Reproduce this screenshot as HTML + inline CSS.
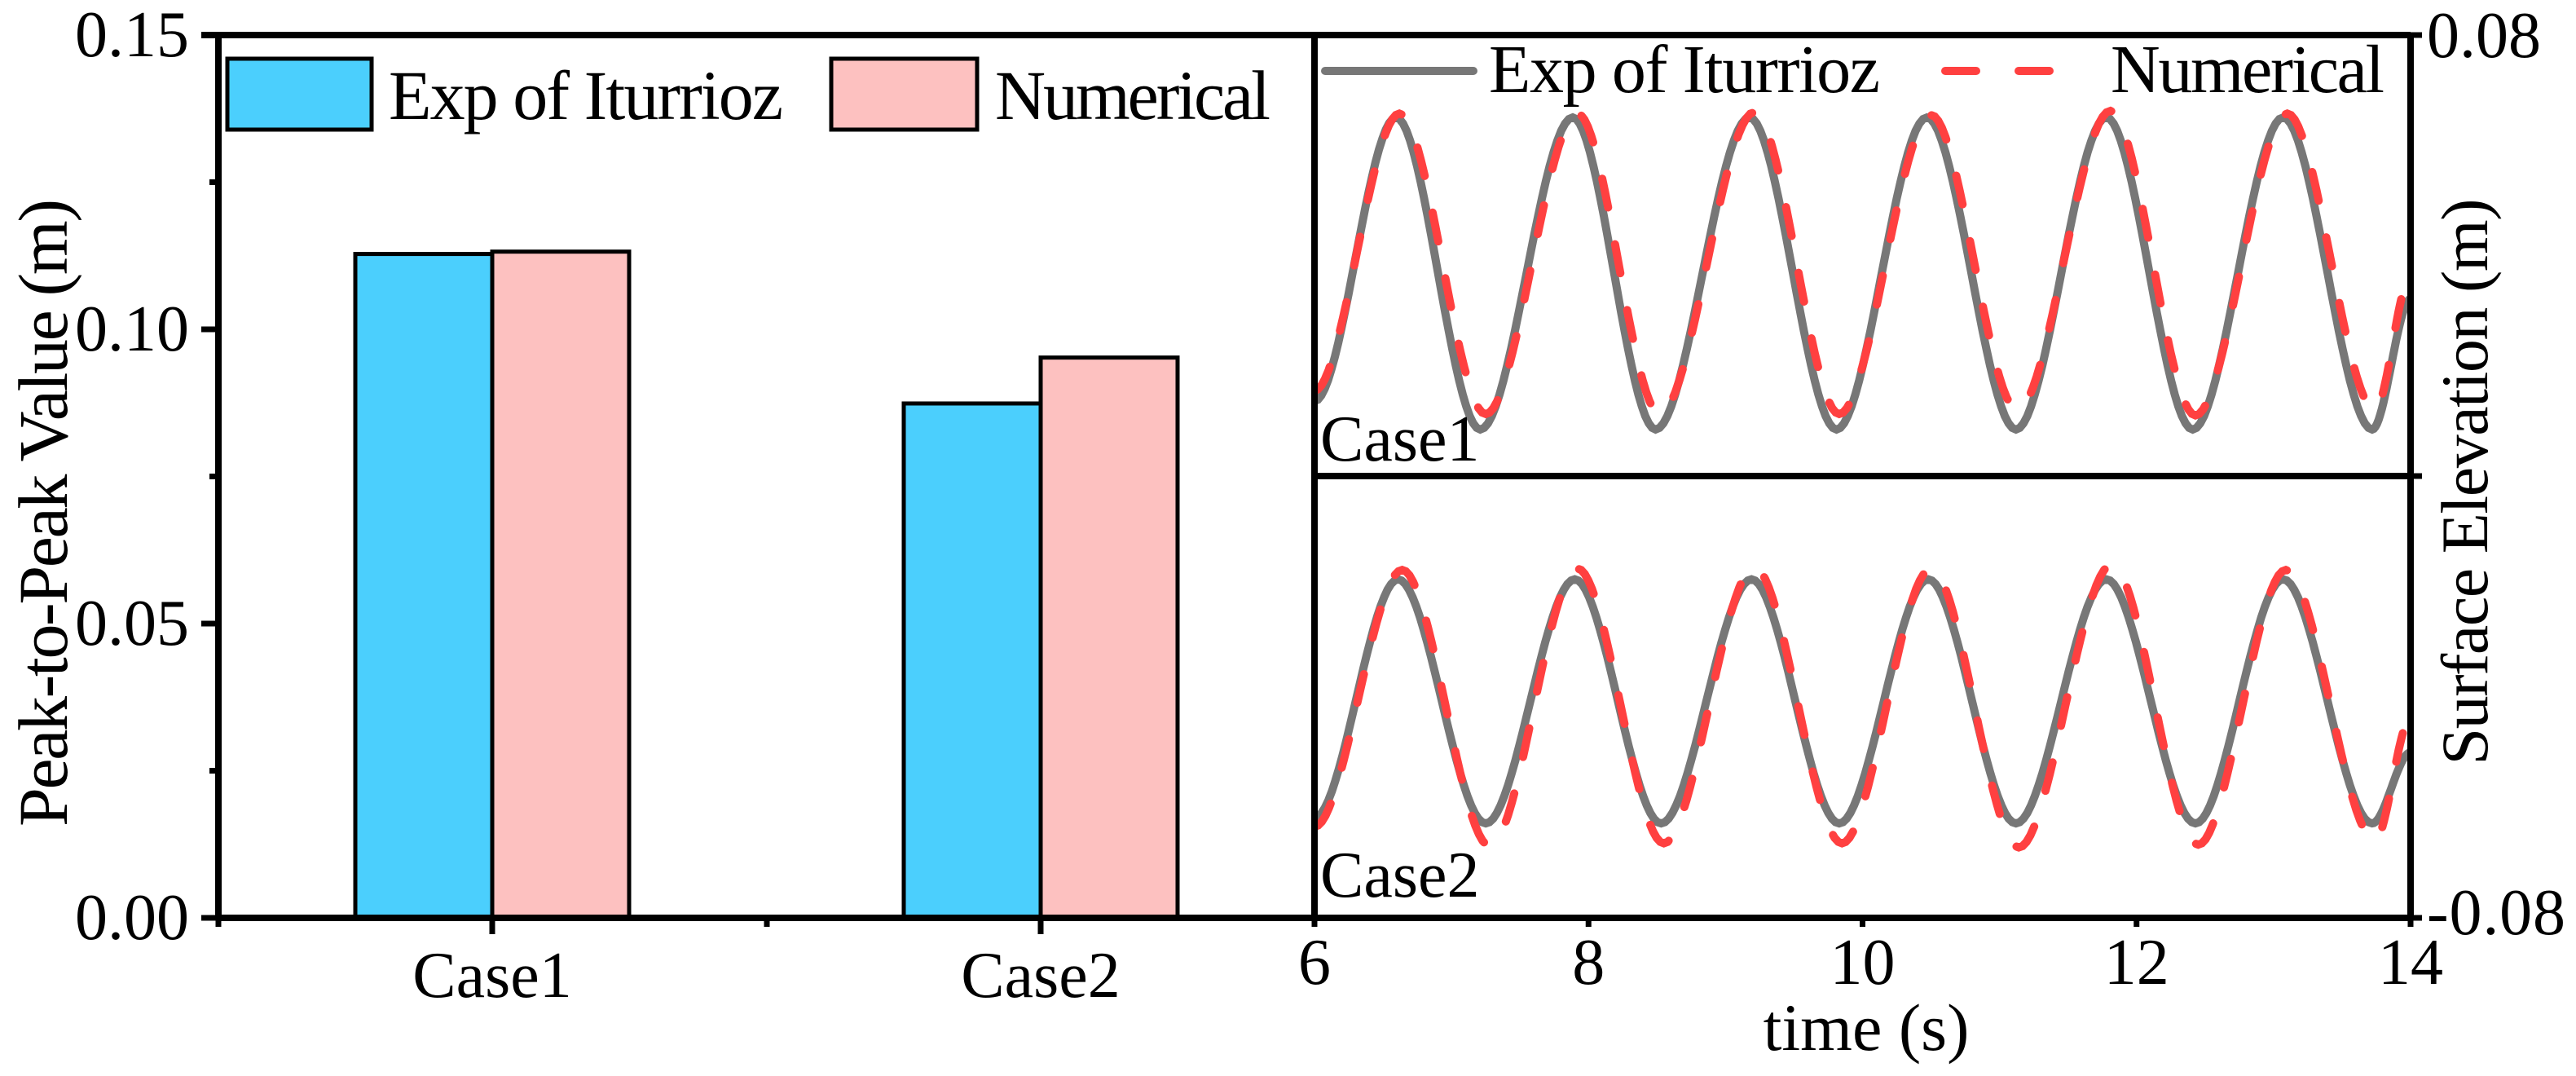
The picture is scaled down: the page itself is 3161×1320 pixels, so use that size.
<!DOCTYPE html>
<html><head><meta charset="utf-8"><style>
html,body{margin:0;padding:0;background:#fff;}
svg{display:block;font-family:"Liberation Serif","DejaVu Serif",serif;}
</style></head><body>
<svg id="chart" width="3161" height="1320" viewBox="0 0 3161 1320" xmlns="http://www.w3.org/2000/svg">
<g id="bars"></g>
<g id="waves"></g>
<g id="axes"></g>
<g id="labels"></g>
</svg>
<script>
// ---- Bar chart data ----
const barCategories = ["Case1", "Case2"];
const expValues = [0.1128, 0.0874];
const numValues = [0.1132, 0.0952];
const barYTicks = [0, 0.05, 0.10, 0.15];
const barYTickLabels = ["0.00", "0.05", "0.10", "0.15"];
// ---- Time series data (extrema keypoints: time s, elevation m) ----
const case1ExpT = [6.0, 6.595, 7.21, 7.885, 8.49, 9.175, 9.81, 10.47, 11.12, 11.78, 12.41, 13.07, 13.72, 14.0];
const case1ExpV = [-0.0528, 0.0501, -0.0631, 0.0501, -0.0631, 0.0501, -0.0631, 0.0501, -0.0631, 0.0501, -0.0631, 0.0501, -0.0631, -0.0158];
const case1NumT = [6.0, 6.62, 7.25, 7.92, 8.52, 9.21, 9.83, 10.50, 11.13, 11.81, 12.43, 13.10, 13.74, 14.0];
const case1NumV = [-0.0490, 0.0515, -0.0575, 0.0515, -0.0575, 0.0520, -0.0575, 0.0510, -0.0560, 0.0525, -0.0580, 0.0515, -0.0560, -0.0075];
const case2ExpT = [6.0, 6.61, 7.25, 7.90, 8.53, 9.19, 9.83, 10.48, 11.12, 11.78, 12.43, 13.07, 13.72, 14.0];
const case2ExpV = [-0.0438, 0.0426, -0.0458, 0.0426, -0.0458, 0.0426, -0.0458, 0.0426, -0.0458, 0.0426, -0.0458, 0.0426, -0.0458, -0.0201];
const case2NumT = [6.0, 6.64, 7.28, 7.92, 8.55, 9.21, 9.85, 10.50, 11.14, 11.82, 12.45, 13.09, 13.74, 14.0];
const case2NumV = [-0.0470, 0.0460, -0.0540, 0.0465, -0.0530, 0.0470, -0.0530, 0.0465, -0.0545, 0.0480, -0.0535, 0.0460, -0.0520, -0.0077];
const timeTicks = [6, 8, 10, 12, 14];

const NS = "http://www.w3.org/2000/svg";
function mk(parent, tag, attrs, text) {
  const e = document.createElementNS(NS, tag);
  for (const k in attrs) e.setAttribute(k, attrs[k]);
  if (text !== undefined) e.textContent = text;
  parent.appendChild(e);
  return e;
}
const gB = document.getElementById("bars"), gW = document.getElementById("waves"),
      gA = document.getElementById("axes"), gL = document.getElementById("labels");

// bar axes
const L = 268, R = 1613, T = 43, B = 1126;
const yB = v => B - (v / 0.15) * (B - T);
const catX = [604, 1277];
const barW = 168;
barCategories.forEach((c, i) => {
  const b1 = mk(gB, "rect", {x: catX[i] - barW, y: yB(expValues[i]), width: barW, height: B - yB(expValues[i]), fill: "#4bcffd", stroke: "#000", "stroke-width": 5});
  
  
  const b2 = mk(gB, "rect", {x: catX[i], y: yB(numValues[i]), width: barW, height: B - yB(numValues[i]), fill: "#fdc1c0", stroke: "#000", "stroke-width": 5});
  
  
  const t = mk(gL, "text", {x: catX[i], y: 1223, "font-size": 80, "text-anchor": "middle"}, c);
  
  
  mk(gA, "line", {x1: catX[i], y1: B, x2: catX[i], y2: B + 20, stroke: "#000", "stroke-width": 7});
});
mk(gA, "line", {x1: 941, y1: B, x2: 941, y2: B + 11, stroke: "#000", "stroke-width": 7});
mk(gA, "line", {x1: L, y1: B, x2: L, y2: B + 11, stroke: "#000", "stroke-width": 7});
barYTicks.forEach((v, i) => {
  mk(gA, "line", {x1: L - 21, y1: yB(v), x2: L, y2: yB(v), stroke: "#000", "stroke-width": 7});
  if (i < barYTicks.length - 1) {
    const m = (v + barYTicks[i + 1]) / 2;
    mk(gA, "line", {x1: L - 11, y1: yB(m), x2: L, y2: yB(m), stroke: "#000", "stroke-width": 7});
  }
  const t = mk(gL, "text", {x: 232, y: yB(v) + 26, "font-size": 80, "text-anchor": "end"}, barYTickLabels[i]);
  
  
});

// wave panel
const WL = 1613, WR = 2958, MID = 584;
const xT = t => WL + (t - 6) / 8 * (WR - WL);
const yP = (v, top, bot) => (top + bot) / 2 - v / 0.16 * (bot - top);
function curve(ts, vs, top, bot) {
  let d = "";
  for (let i = 0; i < ts.length - 1; i++) {
    const n = 24;
    for (let k = 0; k <= n; k++) {
      if (i > 0 && k === 0) continue;
      const s = k / n;
      const h = 3 * s * s - 2 * s * s * s;
      const t = ts[i] + (ts[i + 1] - ts[i]) * s;
      const v = vs[i] + (vs[i + 1] - vs[i]) * h;
      d += (d ? "L" : "M") + xT(t).toFixed(1) + "," + yP(v, top, bot).toFixed(1);
    }
  }
  return d;
}
const clip = mk(gW, "clipPath", {id: "wclip"});
mk(clip, "rect", {x: WL, y: T, width: WR - WL, height: B - T});
const series = [
  [case1ExpT, case1ExpV, T, MID, "exp", "case1"],
  [case1NumT, case1NumV, T, MID, "num", "case1"],
  [case2ExpT, case2ExpV, MID, B, "exp", "case2"],
  [case2NumT, case2NumV, MID, B, "num", "case2"]
];
series.forEach(s => {
  const attrs = {d: curve(s[0], s[1], s[2], s[3]), fill: "none", "clip-path": "url(#wclip)", "stroke-width": 10};
  if (s[4] === "exp") { attrs.stroke = "#777777"; }
  else { attrs.stroke = "#ff4040"; attrs["stroke-dasharray"] = "36 46"; attrs["stroke-linecap"] = "round"; }
  const p = mk(gW, "path", attrs);
  
  
});

// frames
mk(gA, "line", {x1: L - 21, y1: T, x2: WR, y2: T, stroke: "#000", "stroke-width": 8});
mk(gA, "line", {x1: L, y1: T, x2: L, y2: B, stroke: "#000", "stroke-width": 8});
mk(gA, "line", {x1: L, y1: B, x2: WR, y2: B, stroke: "#000", "stroke-width": 8});
mk(gA, "line", {x1: WL, y1: T, x2: WL, y2: B, stroke: "#000", "stroke-width": 8});
mk(gA, "line", {x1: WR, y1: T, x2: WR, y2: B, stroke: "#000", "stroke-width": 8});
mk(gA, "line", {x1: WL, y1: MID, x2: WR, y2: MID, stroke: "#000", "stroke-width": 8});
[T, MID, B].forEach(y => mk(gA, "line", {x1: WR, y1: y, x2: WR + 14, y2: y, stroke: "#000", "stroke-width": 7}));
timeTicks.forEach(t => {
  mk(gA, "line", {x1: xT(t), y1: B, x2: xT(t), y2: B + 11, stroke: "#000", "stroke-width": 7});
  const e = mk(gL, "text", {x: xT(t), y: 1207, "font-size": 80, "text-anchor": "middle"}, String(t));
  
  
});
</script>
<svg width="0" height="0" style="position:absolute"></svg>
<script>
const gl = document.getElementById("labels");
function tx(attrs, text, name) {
  const e = document.createElementNS("http://www.w3.org/2000/svg", "text");
  for (const k in attrs) e.setAttribute(k, attrs[k]);
  e.textContent = text;
  
  
  gl.appendChild(e);
  return e;
}
function el(tag, attrs, name, inter) {
  const e = document.createElementNS("http://www.w3.org/2000/svg", tag);
  for (const k in attrs) e.setAttribute(k, attrs[k]);
  
  
  gl.appendChild(e);
  return e;
}
tx({x: 2978, y: 70, "font-size": 80}, "0.08", "right-y-tick-top");
tx({x: 2978, y: 1146, "font-size": 80, textLength: 170}, "-0.08", "right-y-tick-bottom");
tx({x: 0, y: 0, "font-size": 86, "text-anchor": "middle", textLength: 770, transform: "translate(82,629) rotate(-90)"}, "Peak-to-Peak Value (m)", "y-axis-title");
tx({x: 0, y: 0, "font-size": 82, "text-anchor": "middle", textLength: 695, transform: "translate(3052,591) rotate(-90)"}, "Surface Elevation (m)", "right-y-axis-title");
tx({x: 2290, y: 1288, "font-size": 82, "text-anchor": "middle"}, "time (s)", "x-axis-title");
tx({x: 1620, y: 565, "font-size": 80}, "Case1", "case1-panel-label");
tx({x: 1620, y: 1100, "font-size": 80}, "Case2", "case2-panel-label");
// bar legend
el("rect", {x: 279, y: 72, width: 177, height: 87, fill: "#4bcffd", stroke: "#000", "stroke-width": 5}, "legend-swatch-exp", "false");
tx({x: 477, y: 146, "font-size": 86, textLength: 484}, "Exp of Iturrioz", "legend-entry-exp");
el("rect", {x: 1020, y: 72, width: 179, height: 87, fill: "#fdc1c0", stroke: "#000", "stroke-width": 5}, "legend-swatch-numerical", "false");
tx({x: 1221, y: 146, "font-size": 86, textLength: 338}, "Numerical", "legend-entry-numerical");
// wave legend
el("line", {x1: 1626, y1: 87, x2: 1808, y2: 87, stroke: "#777777", "stroke-width": 10, "stroke-linecap": "round"}, "legend-line-exp", "false");
tx({x: 1827, y: 113, "font-size": 84, textLength: 480}, "Exp of Iturrioz", "wave-legend-entry-exp");
el("line", {x1: 2387, y1: 87, x2: 2425, y2: 87, stroke: "#ff4040", "stroke-width": 10, "stroke-linecap": "round"}, "legend-dash-1", "false");
el("line", {x1: 2477, y1: 87, x2: 2515, y2: 87, stroke: "#ff4040", "stroke-width": 10, "stroke-linecap": "round"}, "legend-dash-2", "false");
tx({x: 2590, y: 113, "font-size": 84, textLength: 336}, "Numerical", "wave-legend-entry-numerical");
</script>
</body></html>
